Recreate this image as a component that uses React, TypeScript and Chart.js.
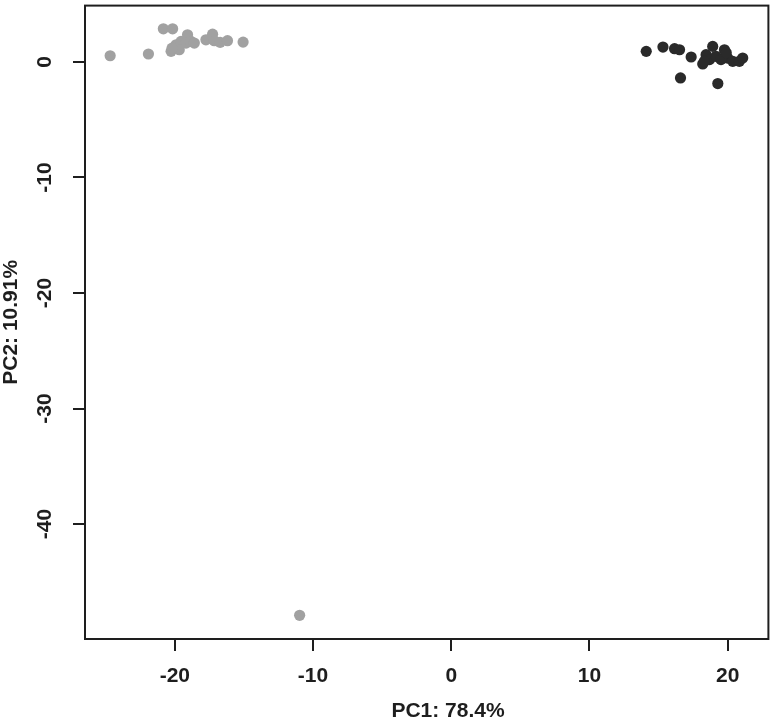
import { useEffect, useRef } from "react";
import { Chart, registerables } from "chart.js";

Chart.register(...registerables);

// Group 1 (grey)
const greyPC1 = [
  -24.68, -21.91, -20.83, -20.16, -19.08, -20.27, -19.91, -19.55, -19.19, -19.68,
  -18.83, -18.59, -17.75, -17.27, -17.15, -16.72, -16.19, -15.06, -20.2, -10.97,
];
const greyPC2 = [
  0.54, 0.69, 2.87, 2.87, 2.35, 0.92, 1.49, 1.78, 1.64, 1.06,
  1.78, 1.64, 1.92, 2.41, 1.84, 1.7, 1.84, 1.72, 1.2, -47.9,
];

// Group 2 (black)
const blackPC1 = [
  14.11, 15.32, 16.16, 16.52, 17.36, 16.59, 19.29, 18.2, 18.44, 18.92,
  18.69, 19.16, 19.77, 20.0, 20.37, 20.85, 21.09, 19.52, 19.9, 18.32,
];
const blackPC2 = [
  0.92, 1.29, 1.15, 1.06, 0.43, -1.38, -1.87, -0.17, 0.63, 1.35,
  0.2, 0.49, 1.06, 0.34, 0.06, 0.06, 0.34, 0.2, 0.8, 0.06,
];

const xTitle = "PC1: 78.4%";
const yTitle = "PC2: 10.91%";
const xRange = [-26.5, 22.95];
const yRange = [-49.95, 4.88];

const FONT = "'Liberation Sans', Arial, Helvetica, sans-serif";
const INK = "#1e1e1e";

export default function App() {
  const ref = useRef<HTMLCanvasElement | null>(null);

  useEffect(() => {
    if (!ref.current) return;
    const toPts = (xs: number[], ys: number[]) => xs.map((x, i) => ({ x, y: ys[i] }));

    const framePlugin = {
      id: "frameAndTitle",
      afterDraw(chart: any) {
        const { ctx, chartArea } = chart;
        ctx.save();
        ctx.strokeStyle = INK;
        ctx.lineWidth = 2;
        ctx.strokeRect(
          chartArea.left,
          chartArea.top,
          chartArea.right - chartArea.left,
          chartArea.bottom - chartArea.top
        );
        ctx.fillStyle = INK;
        ctx.font = `bold 21px ${FONT}`;
        ctx.textAlign = "center";
        ctx.textBaseline = "middle";
        ctx.fillText(xTitle, 448, 711);
        ctx.restore();
      },
    };

    const chart = new Chart(ref.current, {
      type: "scatter",
      data: {
        datasets: [
          {
            data: toPts(greyPC1, greyPC2),
            backgroundColor: "#a1a1a1",
            borderWidth: 0,
            pointRadius: 5.6,
          },
          {
            data: toPts(blackPC1, blackPC2),
            backgroundColor: "#2a2a2a",
            borderWidth: 0,
            pointRadius: 5.6,
          },
        ],
      },
      options: {
        responsive: false,
        animation: false,
        layout: { padding: { top: 3, right: 3, left: 0, bottom: 0 } },
        plugins: {
          legend: { display: false },
          tooltip: { enabled: false },
        },
        scales: {
          x: {
            type: "linear",
            min: xRange[0],
            max: xRange[1],
            border: { display: false },
            grid: {
              drawOnChartArea: false,
              drawTicks: true,
              tickLength: 12,
              color: INK,
              lineWidth: 2,
            },
            ticks: {
              stepSize: 10,
              includeBounds: false,
              color: INK,
              font: { family: FONT, size: 21, weight: "bold" },
              padding: 13,
              maxRotation: 0,
            },
            afterFit(scale: any) {
              scale.height = 81;
              scale.paddingLeft = 0;
              scale.paddingRight = 0;
            },
          },
          y: {
            type: "linear",
            min: yRange[0],
            max: yRange[1],
            border: { display: false },
            grid: {
              drawOnChartArea: false,
              drawTicks: true,
              tickLength: 12,
              color: INK,
              lineWidth: 2,
            },
            ticks: {
              stepSize: 10,
              includeBounds: false,
              color: INK,
              font: { family: FONT, size: 21, weight: "bold" },
              padding: 13,
              minRotation: 90,
              maxRotation: 90,
              crossAlign: "center",
            },
            title: {
              display: true,
              text: yTitle,
              color: INK,
              font: { family: FONT, size: 21, lineHeight: 1.0, weight: "bold" },
              padding: { top: 0.5, bottom: 0 },
            },
            afterFit(scale: any) {
              scale.width = 85;
              scale.paddingTop = 0;
              scale.paddingBottom = 0;
            },
          },
        },
      },
      plugins: [framePlugin],
    } as any);

    return () => chart.destroy();
  }, []);

  return (
    <div style={{ position: "fixed", left: 0, top: 0, width: 774, height: 720, background: "#fff" }}>
      <canvas ref={ref} width={774} height={720} style={{ width: 774, height: 720, display: "block" }} />
    </div>
  );
}
